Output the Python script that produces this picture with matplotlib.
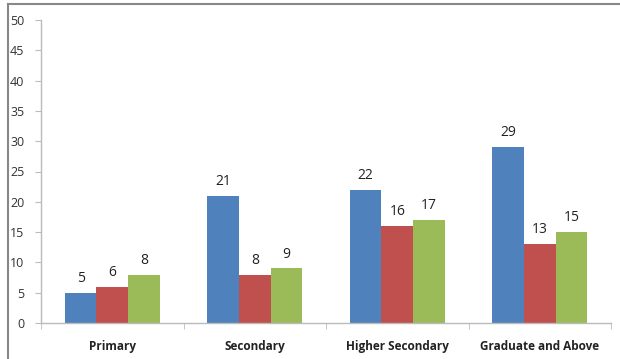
import matplotlib
matplotlib.use("Agg")
import matplotlib.pyplot as plt
import numpy as np
from matplotlib.lines import Line2D

categories = ["Primary", "Secondary", "Higher Secondary", "Graduate and Above"]
series_a = [5, 21, 22, 29]
series_b = [6, 8, 16, 13]
series_c = [8, 9, 17, 15]
colors = ["#4F81BD", "#C0504D", "#9BBB59"]
yticks = list(range(0, 51, 5))

plt.rcParams["font.family"] = ["Open Sans", "DejaVu Sans"]

fig = plt.figure(figsize=(6.2, 3.59), dpi=100)
ax = fig.add_axes([41 / 620, 1 - 323 / 359, 570 / 620, 303 / 359])

x = np.arange(len(categories))
w = 0.222
for i, (vals, c) in enumerate(zip([series_a, series_b, series_c], colors)):
    pos = x + (i - 1) * w
    ax.bar(pos, vals, width=w, color=c, edgecolor="none", zorder=2)
    for p, v in zip(pos, vals):
        ax.annotate(str(v), (p, v), xytext=(0, 5), textcoords="offset points",
                    ha="center", va="bottom", fontsize=10, color="#222222")

ax.set_xlim(-0.5, len(categories) - 0.5)
ax.set_ylim(0, 50)
ax.set_yticks(yticks)
ax.set_xticks(x)
ax.set_xticklabels(categories, fontsize=8.5, fontweight="bold", color="#222222")
ax.set_xticks(np.arange(-0.5, len(categories)), minor=True)
ax.tick_params(axis="x", which="major", length=0, pad=12)
ax.tick_params(axis="x", which="minor", length=4, color="#BBBBBB", direction="out")
ax.tick_params(axis="y", length=4, color="#BBBBBB", labelsize=9, labelcolor="#333333", pad=8)

for s in ["top", "right"]:
    ax.spines[s].set_visible(False)
for s in ["left", "bottom"]:
    ax.spines[s].set_color("#BBBBBB")
    ax.spines[s].set_linewidth(1)

# outer chart frame
fig.add_artist(Line2D([8 / 620, 8 / 620], [0, 1 - 4 / 359], transform=fig.transFigure,
                      color="#888888", lw=1.5))
fig.add_artist(Line2D([8 / 620, 1], [1 - 4 / 359, 1 - 4 / 359], transform=fig.transFigure,
                      color="#888888", lw=1.5))

fig.savefig("out.png", dpi=100)
